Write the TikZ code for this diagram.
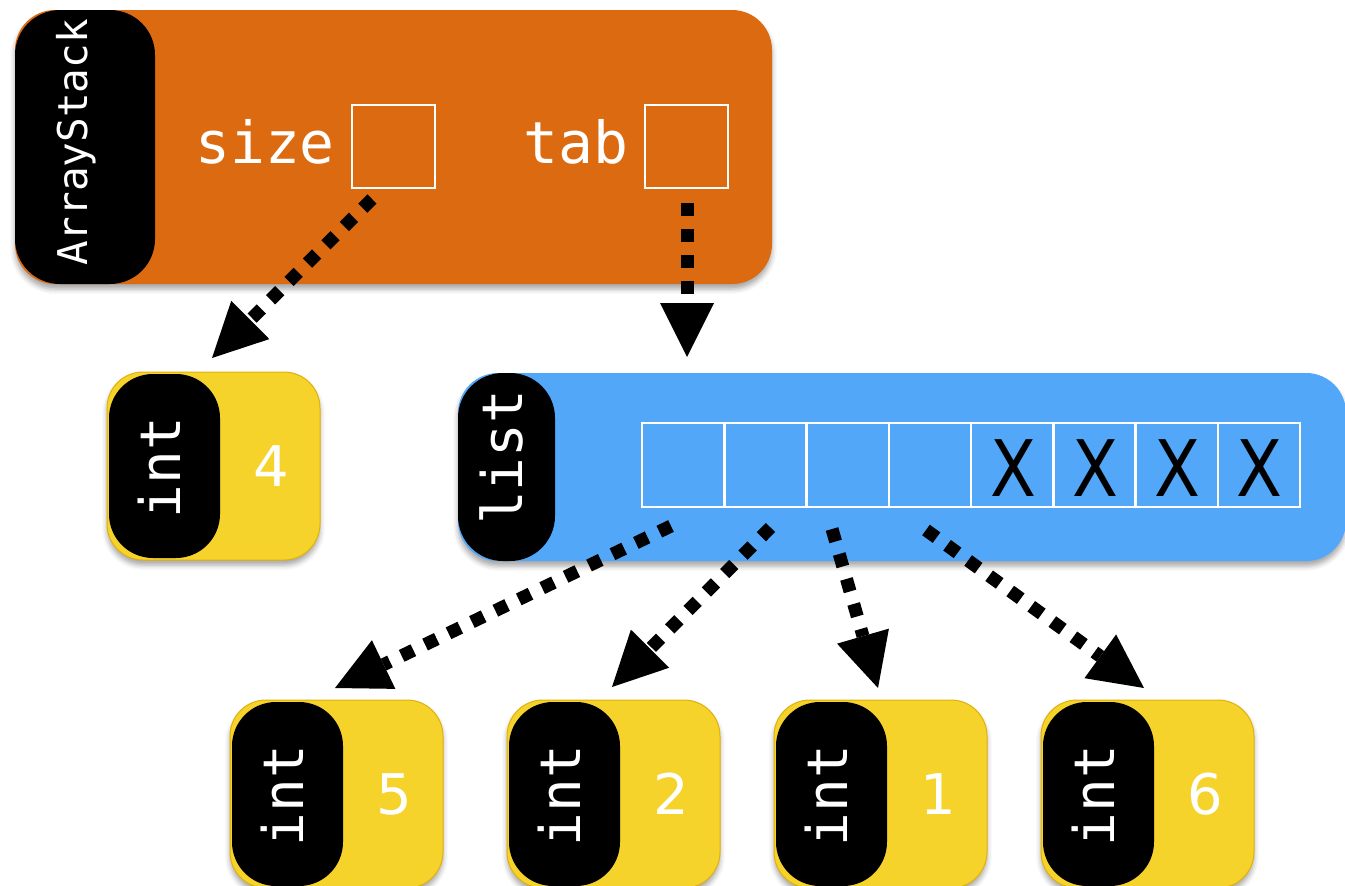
\documentclass[tikz,border=0pt]{standalone}
\usepackage{fontspec}
\setmonofont{DejaVu Sans Mono}
\newfontfamily\digitfont{DejaVu Sans}
\usetikzlibrary{arrows.meta,shadows.blur}

\definecolor{stackorange}{RGB}{220,106,16}
\definecolor{listblue}{RGB}{82,167,249}
\definecolor{intyellow}{RGB}{245,211,42}
\definecolor{intedge}{RGB}{224,176,12}

% one boxed int value: #1 name, #2 left edge, #3 top edge, #4 value
\newcommand\intvalue[4]{%
  \node[intbox] (#1) at ({#2+106.5},{#3+94}) {};
  \node[inttag] (#1tag) at ({#2+57.5},{#3+94}) {};
  \node[typename, anchor=base, rotate=90] (#1type) at ({#2+73},{#3+95.5}) {int};
  \node[digit] (#1val) at ({#2+164},{#3+94}) {#4};
}

\begin{document}
\begin{tikzpicture}[x=1pt, y=-1pt,
  softshadow/.style={blur shadow={shadow xshift=0pt, shadow yshift=-5pt,
      shadow blur radius=5pt, shadow opacity=35}},
  stackbox/.style={rectangle, rounded corners=40pt, fill=stackorange,
      inner sep=0pt, minimum width=757pt, minimum height=274pt, softshadow},
  listbox/.style={rectangle, rounded corners=40pt, fill=listblue,
      inner sep=0pt, minimum width=888pt, minimum height=188pt, softshadow},
  intbox/.style={rectangle, rounded corners=36pt, fill=intyellow,
      draw=intedge, line width=1pt, inner sep=0pt,
      minimum width=213pt, minimum height=188pt, softshadow},
  inttag/.style={rectangle, rounded corners=44pt, fill=black, inner sep=0pt,
      minimum width=111pt, minimum height=184pt},
  nametag/.style={rectangle, rounded corners=45pt, fill=black, inner sep=0pt},
  typename/.style={text=white, inner sep=0pt,
      font=\ttfamily\fontsize{56}{56}\selectfont},
  fieldname/.style={text=white, inner sep=0pt, anchor=base west,
      font=\ttfamily\fontsize{58}{58}\selectfont},
  digit/.style={text=white, inner sep=0pt,
      font=\digitfont\fontsize{56}{56}\selectfont},
  slot/.style={rectangle, draw=white, line width=2.5pt, inner sep=0pt,
      minimum size=83pt},
  cellbox/.style={rectangle, draw=white, line width=2.5pt, inner sep=0pt,
      minimum width=82.25pt, minimum height=84pt},
  gone/.style={text=black, inner sep=0pt,
      font=\digitfont\fontsize{78}{78}\selectfont},
  ptr/.style={line width=13pt, dash pattern=on 13pt off 13pt,
      -{Triangle[length=54pt, width=54pt, line width=0pt]}}
]
\useasboundingbox (0,0) rectangle (1345,886);

% ArrayStack object
\node[stackbox] (stack) at (393.5,147) {};
\node[nametag, minimum width=140pt, minimum height=274pt] (stacktag) at (85,147) {};
\node[typename, font=\ttfamily\fontsize{41}{41}\selectfont, anchor=base, rotate=90]
  (stackname) at (87,142.5) {ArrayStack};
\node[fieldname] (sizename) at (195,163) {size};
\node[slot] (sizeslot) at (393.5,146.5) {};
\node[fieldname] (tabname) at (523,163) {tab};
\node[slot] (tabslot) at (686.5,146.5) {};

% the size value
\intvalue{sizeval}{107}{372}{4}

% the backing list
\node[listbox] (list) at (902,467) {};
\node[nametag, minimum width=97pt, minimum height=188pt] (listtag) at (506.5,467) {};
\node[typename, anchor=base, rotate=90] (listname) at (522,457.5) {list};
\foreach \i in {1,...,8}
  \node[cellbox] (cell\i) at ({642+82.25*(\i-0.5)},465) {};
\foreach \i in {5,...,8}
  \node[gone] (mark\i) at ($(cell\i.center)+(1,3.5)$) {\scalebox{0.86}[1]{X}};

% stored elements
\intvalue{elemA}{230}{700}{5}
\intvalue{elemB}{507}{700}{2}
\intvalue{elemC}{774}{700}{1}
\intvalue{elemD}{1041}{700}{6}

% pointer ends
\coordinate (sizeout) at (372,199);
\coordinate (sizein) at (212,358);
\coordinate (tabout) at (687,203);
\coordinate (tabin) at (687,357);
\coordinate (outA) at (671,526);
\coordinate (inA) at (335,688);
\coordinate (outB) at (770.5,527.5);
\coordinate (inB) at (612,687);
\coordinate (outC) at (832,529);
\coordinate (inC) at (878,688);
\coordinate (outD) at (926,530);
\coordinate (inD) at (1144,688);

\draw[ptr] (sizeout) -- (sizein);
\draw[ptr] (tabout) -- (tabin);
\draw[ptr] (outA) -- (inA);
\draw[ptr] (outB) -- (inB);
\draw[ptr] (outC) -- (inC);
\draw[ptr] (outD) -- (inD);
\end{tikzpicture}
\end{document}
